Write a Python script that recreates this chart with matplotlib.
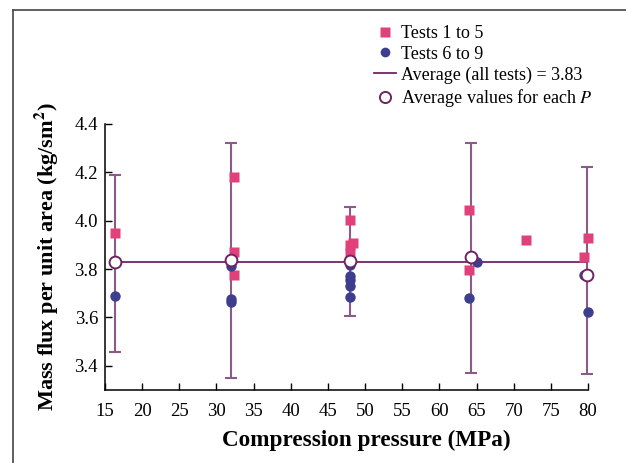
import numpy as np
import matplotlib.pyplot as plt
from matplotlib.lines import Line2D

plt.rcParams['font.family'] = ['Liberation Serif', 'DejaVu Serif']
plt.rcParams['mathtext.fontset'] = 'stix'

# tests 1 to 5 (pressure MPa, mass flux)
sq_p = [16.3, 32.4, 32.4, 32.4, 48.0, 48.4, 48.0, 48.0, 64.0, 64.0, 71.7, 80.0, 79.4]
sq_v = [3.948, 4.179, 3.869, 3.777, 4.002, 3.908, 3.898, 3.868, 4.046, 3.797, 3.92, 3.93, 3.848]

# tests 6 to 9
ci_p = [16.3, 32.0, 32.0, 32.0, 48.0, 48.0, 48.0, 48.0, 48.0, 65.0, 64.0, 79.4, 80.0]
ci_v = [3.69, 3.814, 3.677, 3.664, 3.816, 3.773, 3.756, 3.729, 3.684, 3.83, 3.679, 3.775, 3.622]

# averages for each P with range
avg_p = [16.3, 32.0, 48.0, 64.2, 79.8]
avg_v = [3.83, 3.838, 3.834, 3.848, 3.777]
rng_hi = [4.19, 4.32, 4.057, 4.32, 4.224]
rng_lo = [3.458, 3.351, 3.608, 3.369, 3.367]
avg_all = 3.83

pink = '#e0417a'
navy = '#3d3f8e'
purple = '#6e2463'
bar_col = '#8c5a88'

fig = plt.figure(figsize=(6.26, 4.63), dpi=100)
ax = fig.add_axes([105/626, 1-390/463, (588-105)/626, (390-124)/463])

# figure border
fig.add_artist(Line2D([13/626, 13/626], [0, 1-10/463], transform=fig.transFigure, color='#444444', lw=1.2))
fig.add_artist(Line2D([13/626, 1], [1-10/463, 1-10/463], transform=fig.transFigure, color='#444444', lw=1.2))

avg_v = np.array(avg_v)
yerr = [avg_v - np.array(rng_lo), np.array(rng_hi) - avg_v]
ax.errorbar(avg_p, avg_v, yerr=yerr, fmt='none', ecolor=bar_col, elinewidth=1.5,
            capsize=4, capthick=1.5, clip_on=False, zorder=2)
ax.plot([avg_p[0], avg_p[-1]], [avg_all, avg_all], color=purple, lw=1.3, zorder=3)
ax.plot(sq_p, sq_v, 's', color=pink, ms=7, mec='none', clip_on=False, zorder=4)
ax.plot(ci_p, ci_v, 'o', color=navy, ms=7.5, mec='none', clip_on=False, zorder=5)
ax.plot(avg_p, avg_v, 'o', mfc='white', mec=purple, mew=1.4, ms=8.5, clip_on=False, zorder=6)

ax.set_xlim(15, 80)
ax.set_ylim(3.3, 4.4)
ax.set_xticks(np.arange(15, 81, 5))
ax.set_yticks([3.4, 3.6, 3.8, 4.0, 4.2, 4.4])
ax.tick_params(direction='in', length=5, width=1, labelsize=13.5)
ax.tick_params(axis='x', pad=9)
ax.tick_params(axis='y', pad=5)
for s in ['top', 'right']:
    ax.spines[s].set_visible(False)
for s in ['left', 'bottom']:
    ax.spines[s].set_linewidth(1.1)

ax.set_xlabel('Compression pressure (MPa)', fontsize=16.7, fontweight='bold')
ax.xaxis.set_label_coords((366-105)/483, -0.15)
ax.set_ylabel('Mass flux per unit area (kg/sm$^\\mathbf{2}$)', fontsize=16, fontweight='bold', labelpad=10)

handles = [
    Line2D([], [], marker='s', ls='none', color=pink, ms=7, mec='none'),
    Line2D([], [], marker='o', ls='none', color=navy, ms=7, mec='none'),
    Line2D([], [], color=purple, lw=1.3),
    Line2D([], [], marker='o', ls='none', mfc='white', mec=purple, mew=1.4, ms=8),
]
labels = ['Tests 1 to 5', 'Tests 6 to 9', 'Average (all tests) = 3.83',
          'Average values for each $P$']
fig.legend(handles, labels, loc='upper left', bbox_to_anchor=(365/626, 1-16/463),
           frameon=False, fontsize=13, handlelength=1.2, handletextpad=0.3,
           labelspacing=0.2, borderpad=0)

fig.savefig('out.png', dpi=100)
